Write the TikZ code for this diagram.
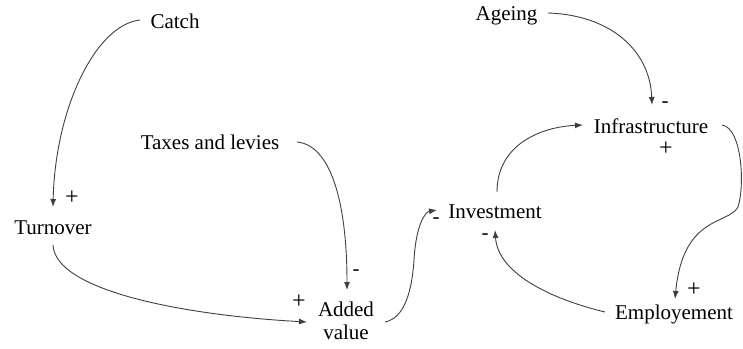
\documentclass[tikz,border=0pt]{standalone}
\usepackage{fontspec}
\setmainfont{Liberation Serif}
\usetikzlibrary{arrows.meta,calc}
\begin{document}
\begin{tikzpicture}[x=1pt,y=-1pt,
  lbl/.style={font=\fontsize{21}{23}\selectfont, inner sep=0pt, outer sep=0pt},
  sgn/.style={font=\fontsize{21}{23}\selectfont, inner sep=0pt, outer sep=0pt},
  plussgn/.style={font=\fontsize{24}{26}\selectfont, inner sep=0pt, outer sep=0pt},
  link/.style={draw=black!75, line width=0.9pt, -{Latex[length=8pt,width=6pt]}}]
\useasboundingbox (0,0) rectangle (743,348);
% nodes
\node[lbl, anchor=base] (catch) at (175,28.5) {Catch};
\node[lbl, anchor=base] (turnover) at (53,234.5) {Turnover};
\node[lbl, anchor=base] (taxes) at (210,149.5) {Taxes and levies};
\node[lbl, align=center] (added) at (346,321) {Added\\value};
\node[lbl, anchor=base] (invest) at (495,218.5) {Investment};
\node[lbl, anchor=base] (ageing) at (506.5,20) {Ageing};
\node[lbl, anchor=base] (infra) at (651,133.5) {Infrastructure};
\node[lbl, anchor=base] (employ) at (674,319) {Employement};
% signs
\node[plussgn] (s1) at (72,198) {+};
\node[sgn] (s2) at (356,273) {-};
\node[plussgn] (s3) at (299,302) {+};
\node[sgn] (s4) at (436,221) {-};
\node[sgn] (s5) at (485,237) {-};
\node[sgn] (s6) at (665,105) {-};
\node[plussgn] (s7) at (666,149) {+};
\node[plussgn] (s8) at (694,290) {+};
% connectors
\draw[link] ($(catch.base)+(-35,-8.5)$) .. controls (95,25) and (55,110) .. ($(turnover.base)+(0,-27.5)$);
\draw[link] ($(turnover.base)+(0,10.5)$) .. controls (55,290) and (180,315) .. ($(added.center)+(-39,1)$);
\draw[link] ($(taxes.base)+(87,-7.5)$) .. controls (330,145) and (347,200) .. ($(added.center)+(1,-31)$);
\draw[link] ($(added.center)+(39,1)$) .. controls (405,318) and (412,290) .. (414,260) .. controls (416,225) and (425,212) .. ($(invest.base)+(-58,-8.5)$);
\draw[link] ($(ageing.base)+(41.5,-7)$) .. controls (610,15) and (650,50) .. ($(infra.base)+(1,-28.5)$);
\draw[link] ($(invest.base)+(2,-26.5)$) .. controls (497,145) and (540,127) .. ($(infra.base)+(-68,-8.5)$);
\draw[link] ($(infra.base)+(71,-8.5)$) .. controls (742,128) and (745,185) .. (738,207) .. controls (728,225) and (683,215) .. ($(employ.base)+(1,-20)$);
\draw[link] ($(employ.base)+(-69,-7)$) .. controls (555,300) and (498,275) .. ($(invest.base)+(0,11.5)$);
\end{tikzpicture}
\end{document}
